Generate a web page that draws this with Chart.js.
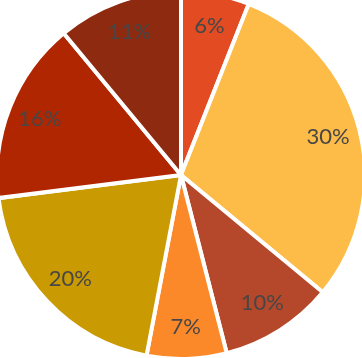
<!DOCTYPE html>
<html>
<head>
<meta charset="utf-8">
<script src="https://cdn.jsdelivr.net/npm/chart.js@4"></script>
<style>
  html, body { margin: 0; padding: 0; background: #fff; }
  #wrap { width: 362px; height: 358px; }
</style>
</head>
<body>
<div id="wrap"><canvas id="myChart"></canvas></div>
<script>
// data
var labels = ['A', 'B', 'C', 'D', 'E', 'F', 'G'];
var values = [6, 30, 10, 7, 20, 16, 11];
var colors = ['#E34B22', '#FDBB47', '#B5482A', '#FC8929', '#C99A02', '#AF2600', '#8E2A10'];

// percent labels inside slices
var pctLabels = {
  id: 'pctLabels',
  afterDatasetsDraw: function(chart){
    var ctx = chart.ctx;
    var meta = chart.getDatasetMeta(0);
    var total = values.reduce(function(a, b){ return a + b; }, 0);
    ctx.save();
    ctx.font = '22px Lato';
    ctx.fillStyle = '#474747';
    ctx.textAlign = 'center';
    ctx.textBaseline = 'middle';
    meta.data.forEach(function(arc, i){
      var p = arc.getProps(['x', 'y', 'startAngle', 'endAngle', 'outerRadius'], true);
      var mid = (p.startAngle + p.endAngle) / 2;
      var r = p.outerRadius * 0.825;
      ctx.fillText(Math.round(values[i] / total * 100) + '%', p.x + Math.cos(mid) * r, p.y + Math.sin(mid) * r);
    });
    ctx.restore();
  }
};

var ctx = document.getElementById('myChart');
var chart = new Chart(ctx, {
  type: 'pie',
  data: {
    labels: labels,
    datasets: [{
      data: values,
      backgroundColor: colors,
      borderColor: '#ffffff',
      borderWidth: 4
    }]
  },
  options: {
    responsive: true,
    maintainAspectRatio: false,
    animation: false,
    radius: 184,
    layout: { padding: { top: 0, bottom: 8, left: 0, right: 0 } },
    plugins: {
      legend: { display: false },
      tooltip: { enabled: false }
    }
  },
  plugins: [pctLabels]
});
</script>
</body>
</html>
